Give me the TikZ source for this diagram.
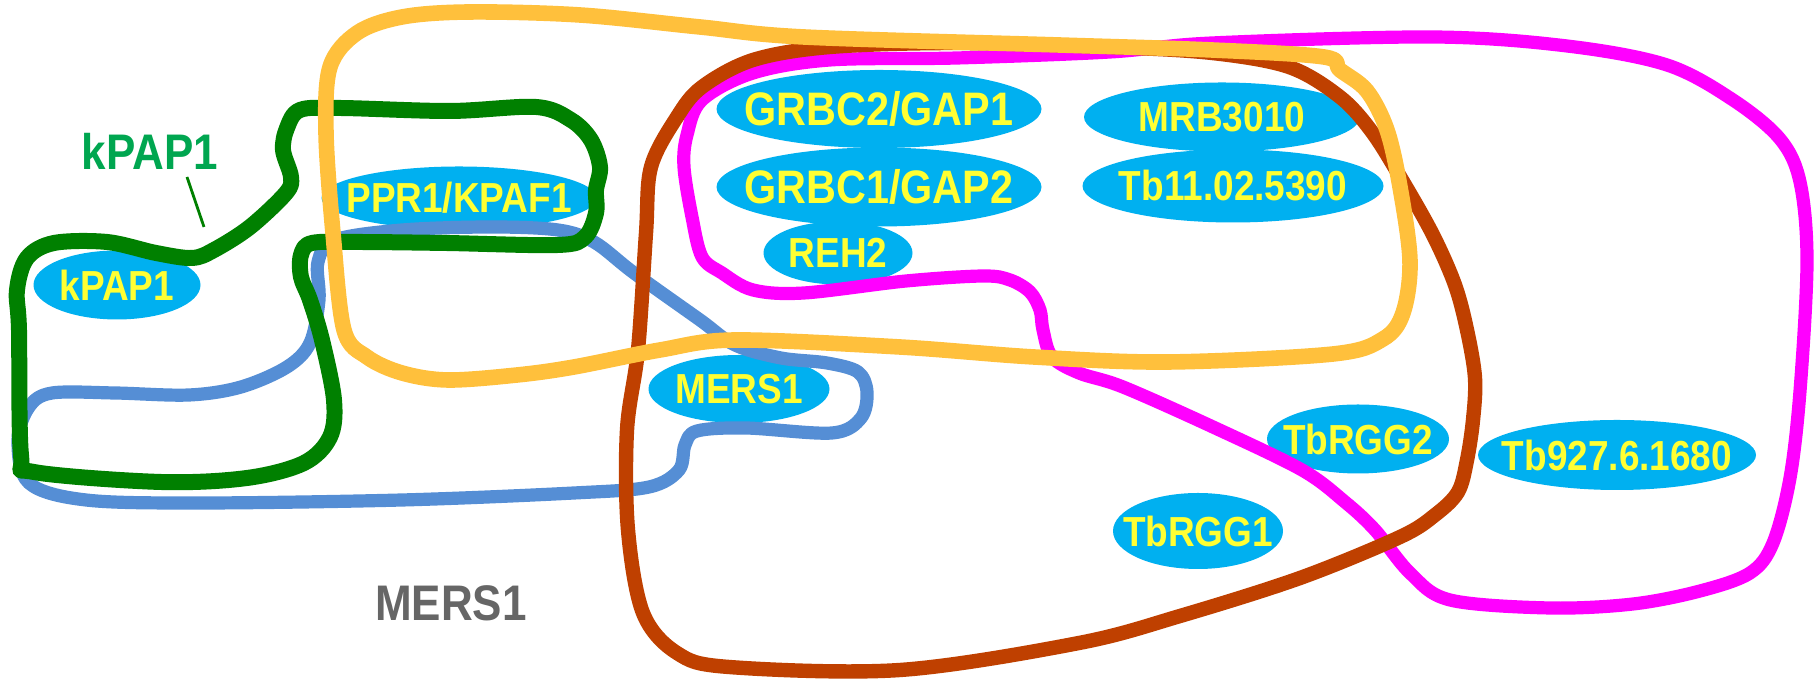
\documentclass[tikz,border=0pt]{standalone}
\usepackage{fontspec}
\usetikzlibrary{shapes.geometric}
\newfontfamily\nar[FakeStretch=0.88]{Liberation Sans Bold}
\definecolor{cellblue}{RGB}{0,176,240}
\definecolor{geneyellow}{RGB}{255,255,51}
\definecolor{lblgreen}{RGB}{0,166,80}
\definecolor{cgreen}{RGB}{0,128,0}
\definecolor{cyellow}{RGB}{255,192,60}
\definecolor{cbrown}{RGB}{191,64,0}
\definecolor{cmag}{RGB}{255,0,255}
\definecolor{cblue}{RGB}{85,142,213}
\definecolor{cgray}{RGB}{102,102,102}
\newcommand{\gtxt}[1]{\makebox[0pt]{#1}}
\begin{document}
\begin{tikzpicture}[x=0.25pt,y=-0.25pt,
  gene/.style={ellipse, fill=cellblue, text=geneyellow, inner sep=0pt,
    font=\nar\fontsize{10.5}{12}\selectfont},
  bigtext/.style={font=\nar\fontsize{11.75}{13}\selectfont},
  grouplabel/.style={font=\nar\fontsize{12.5}{14}\selectfont},
  loopline/.style={line join=round}]
\useasboundingbox (0,0) rectangle (1820,681);

% ellipses
\node[gene, minimum width=41.75pt, minimum height=17.25pt] (kpap) at (117,285) {\gtxt{kPAP1}};
\node[gene, minimum width=68.75pt, minimum height=15.75pt] (ppr) at (459,198) {\gtxt{PPR1/KPAF1}};
\node[gene, bigtext, minimum width=81.25pt, minimum height=19.5pt] (grbc2) at (879,109) {\gtxt{GRBC2/GAP1}};
\node[gene, bigtext, minimum width=81.25pt, minimum height=19.75pt] (grbc1) at (879,187) {\gtxt{GRBC1/GAP2}};
\node[gene, minimum width=37.25pt, minimum height=15.75pt] (reh) at (838,253) {\gtxt{REH2}};
\node[gene, minimum width=69pt, minimum height=17.25pt] (mrb) at (1222,117) {\gtxt{MRB3010}};
\node[gene, minimum width=75.25pt, minimum height=18.25pt] (tb11) at (1233,186) {\gtxt{Tb11.02.5390}};
\node[gene, minimum width=45.25pt, minimum height=17pt] (mers) at (739,389) {\gtxt{MERS1}};
\node[gene, minimum width=45.5pt, minimum height=17.25pt] (rgg2) at (1358,439) {\gtxt{TbRGG2}};
\node[gene, minimum width=42.5pt, minimum height=19pt] (rgg1) at (1198,531) {\gtxt{TbRGG1}};
\node[gene, minimum width=69.5pt, minimum height=17.5pt] (tb927) at (1617,455) {\gtxt{Tb927.6.1680}};

% labels
\node[grouplabel, text=lblgreen] (klab) at (150,151) {kPAP1};
\node[grouplabel, text=cgray] (mlab) at (451,603) {MERS1};
\coordinate (t1) at (187,177);
\coordinate (t2) at (204,227);
\draw[cgreen, line width=0.7pt] (t1) -- (t2);

% blue loop
\draw[loopline, cblue, line width=3.3pt] plot[smooth cycle, tension=0.55] coordinates {
 (335,240) (402,230) (491,227) (558,230) (594,242) (634,273) (700,320) (735,345)
 (781,358) (827,363) (858,372) (867,392) (861,418) (832,433) (746,428) (697,431)
 (685,445) (679,470) (649,487) (574,493) (402,500) (201,503) (86,500) (29,483)
 (18,440) (29,407) (52,393) (115,393) (189,395) (241,387) (287,367) (310,343)
 (319,300) (318,262)};

% green loop
\draw[loopline, cgreen, line width=4pt] plot[smooth cycle, tension=0.55] coordinates {
 (300,110) (340,108) (450,111) (536,107) (571,120) (591,140) (600,167) (596,190)
 (596,213) (585,237) (558,245) (446,243) (357,242) (312,243) (301,255) (301,277)
 (310,300) (322,340) (334,400) (330,437) (304,463) (247,478) (161,482) (34,472)
 (21,455) (19,330) (17,290) (27,258) (54,243) (107,242) (156,253) (192,258)
 (214,250) (250,227) (286,193) (291,177) (283,150) (287,128)};

% magenta loop
\draw[loopline, cmag, line width=3.3pt] plot[smooth cycle, tension=0.55] coordinates {
 (702,100) (753,73) (830,60) (957,58) (1110,52) (1212,43) (1433,37) (1567,46)
 (1667,65) (1733,100) (1780,139) (1800,182) (1807,261) (1800,391) (1790,478)
 (1773,543) (1750,573) (1700,591) (1633,604) (1550,608) (1450,600) (1410,573)
 (1375,530) (1345,502) (1302,470) (1213,427) (1123,387) (1079,373) (1052,357)
 (1043,330) (1040,310) (1030,292) (1010,280) (983,276) (906,281) (804,293)
 (753,290) (722,273) (702,257) (692,217) (684,167) (687,135)};

% brown loop
\draw[loopline, cbrown, line width=3.6pt] plot[smooth cycle, tension=0.55] coordinates {
 (651,167) (677,117) (702,87) (753,60) (830,47) (957,43) (1110,47) (1212,53)
 (1289,67) (1340,97) (1372,132) (1402,180) (1433,235) (1455,285) (1467,330)
 (1475,378) (1473,420) (1467,460) (1458,492) (1435,515) (1400,537) (1300,578) (1180,616)
 (1079,643) (900,670) (729,667) (677,653) (643,613) (628,530) (627,430)
 (638,350) (646,233)};

% yellow loop
\draw[loopline, cyellow, line width=3.9pt] plot[smooth cycle, tension=0.55] coordinates {
 (330,67) (357,33) (402,17) (469,12) (580,15) (700,27) (804,37) (1059,45)
 (1212,50) (1324,57) (1340,70) (1367,91) (1387,130) (1400,187) (1410,261)
 (1403,313) (1383,339) (1333,354) (1168,362) (1034,357) (900,347) (735,340)
 (660,350) (574,367) (517,375) (448,380) (402,373) (367,357) (344,330)
 (333,233) (326,133)};
\end{tikzpicture}
\end{document}
